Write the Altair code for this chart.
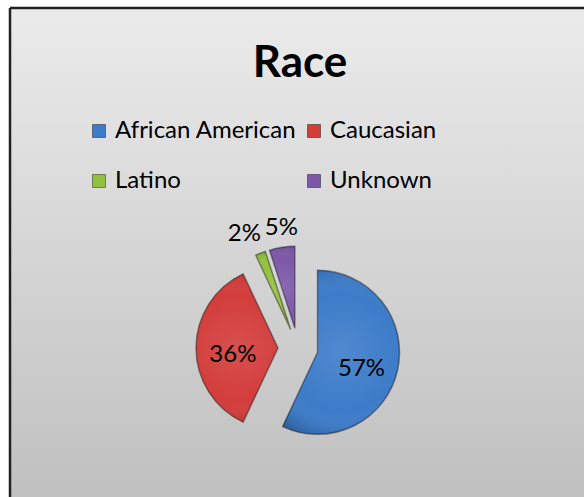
import altair as alt
import pandas as pd

categories = ["African American", "Caucasian", "Latino", "Unknown"]
values = [57, 36, 2, 5]
labels = ["57%", "36%", "2%", "5%"]
colors = ["#3d7cc9", "#d23d3b", "#93c13e", "#7d58a8"]
title_text = "Race"

W, H = 574, 489
CX, CY = 288, 340   # pie centre inside the view
R = 82
EXPLODE = 20

df = pd.DataFrame({"cat": categories, "value": values, "label": labels,
                   "order": list(range(len(categories)))})

base = alt.Chart(df).transform_window(
    cum="sum(value)", sort=[alt.SortField("order")], frame=[None, 0]
).transform_joinaggregate(total="sum(value)").transform_calculate(
    t0="2*PI*(datum.cum-datum.value)/datum.total",
    t1="2*PI*datum.cum/datum.total",
    small="datum.value/datum.total < 0.1",
).transform_calculate(
    tm="(datum.t0+datum.t1)/2",
).transform_calculate(
    ax=f"{CX}+{EXPLODE}*sin(datum.tm)",
    ay=f"{CY}-{EXPLODE}*cos(datum.tm)",
).transform_calculate(
    ix=f"datum.ax+{R}*0.55*sin(datum.tm)",
    iy=f"datum.ay-{R}*0.55*cos(datum.tm)+7",
    ox=f"{CX}+{R + EXPLODE + 18}*sin(datum.t1)",
    oy=f"{CY}-{R + EXPLODE + 18}*cos(datum.t1)",
)

color = alt.Color(
    "cat:N",
    scale=alt.Scale(domain=categories, range=colors),
    sort=categories,
    legend=alt.Legend(
        title=None, orient="none", legendX=77, legendY=111, columns=2,
        direction="horizontal",
        symbolType="square", symbolSize=169, symbolStrokeColor="rgba(0,0,0,0.4)",
        symbolStrokeWidth=1, labelFont="Lato", labelFontSize=24, labelColor="#000",
        labelOffset=4, columnPadding=5, rowPadding=26, padding=0, gridAlign="each",
        labelLimit=400,
    ),
)

arcs = base.mark_arc(radius=R, stroke="rgba(0,0,0,0.4)", strokeWidth=1.5).encode(
    theta=alt.Theta("t0:Q", scale=None),
    theta2="t1:Q",
    x=alt.X("ax:Q", scale=None),
    y=alt.Y("ay:Q", scale=None),
    color=color,
)

shade = base.mark_arc(
    radius=R,
    fill=alt.Gradient(
        gradient="radial", x1=0.5, y1=0.5, x2=0.5, y2=0.5, r1=0, r2=0.6,
        stops=[alt.GradientStop(color="rgba(255,255,255,0.10)", offset=0),
               alt.GradientStop(color="rgba(255,255,255,0)", offset=0.6),
               alt.GradientStop(color="rgba(0,0,0,0.10)", offset=0.85),
               alt.GradientStop(color="rgba(0,0,0,0.3)", offset=1)]),
).encode(
    theta=alt.Theta("t0:Q", scale=None),
    theta2="t1:Q",
    x=alt.X("ax:Q", scale=None),
    y=alt.Y("ay:Q", scale=None),
)

text_in = base.transform_filter("!datum.small").mark_text(
    font="Lato", fontSize=24, color="#000").encode(
    x=alt.X("ix:Q", scale=None),
    y=alt.Y("iy:Q", scale=None),
    text="label:N",
)
text_out = base.transform_filter("datum.small").mark_text(
    font="Lato", fontSize=24, color="#000", align="right").encode(
    x=alt.X("ox:Q", scale=None),
    y=alt.Y("oy:Q", scale=None),
    text="label:N",
)

bgdata = pd.DataFrame({"k": [0]})
bg = alt.Chart(bgdata).mark_rect(
    fill=alt.Gradient(gradient="linear", x1=0, y1=0, x2=0, y2=1,
                      stops=[alt.GradientStop(color="#ebebeb", offset=0),
                             alt.GradientStop(color="#c0c0c0", offset=1)])
).encode(x=alt.value(0), x2=alt.value(W), y=alt.value(0), y2=alt.value(H))

left_rule = alt.Chart(bgdata).mark_rule(color="#222", strokeWidth=2.5).encode(
    x=alt.value(0), y=alt.value(0), y2=alt.value(H))
top_rule = alt.Chart(bgdata).mark_rule(color="#222", strokeWidth=2.5).encode(
    x=alt.value(0), x2=alt.value(W), y=alt.value(0))

title = alt.Chart(pd.DataFrame({"t": [title_text]})).mark_text(
    font="Lato", fontSize=44, fontWeight="bold", color="#000",
    baseline="alphabetic", align="center").encode(
    x=alt.value(290), y=alt.value(69), text="t:N")

chart = alt.layer(bg, left_rule, top_rule, title, arcs, shade, text_in, text_out).properties(
    width=W, height=H,
    autosize=alt.AutoSizeParams(type="none"),
    padding={"left": 10, "top": 8, "right": 0, "bottom": 0},
    background="#ffffff",
).configure_view(stroke=None)

chart.save("out.html", embed_options={"renderer": "svg", "actions": False})
